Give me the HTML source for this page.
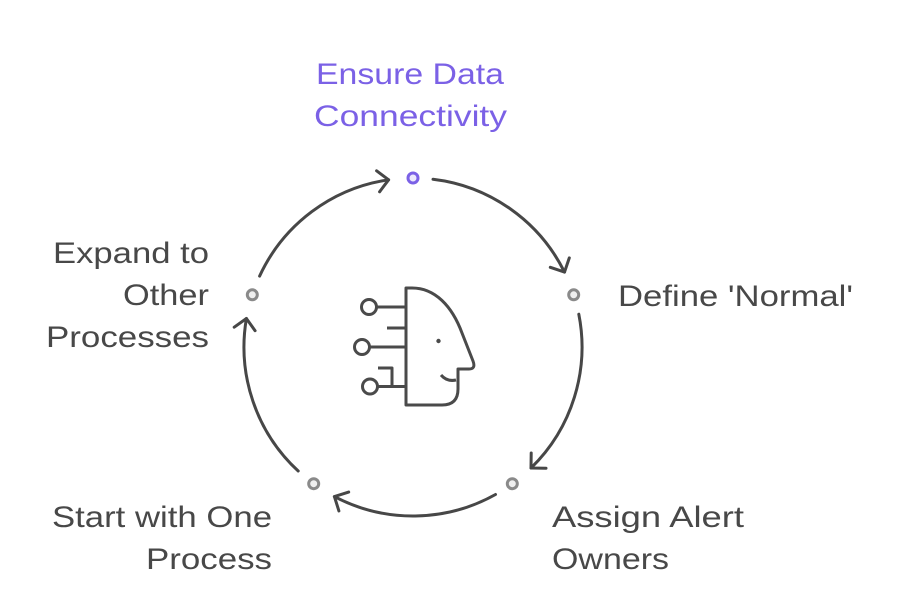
<!DOCTYPE html>
<html>
<head>
<meta charset="utf-8">
<style>
  html, body { margin: 0; padding: 0; background: #ffffff; }
  svg { display: block; }
  text { font-family: "Liberation Sans", Arial, sans-serif; font-size: 30px; fill: #484848; }
  .p { fill: #7b61e6; }
</style>
</head>
<body>
<svg width="900" height="600" viewBox="0 0 900 600" xmlns="http://www.w3.org/2000/svg">
  <rect width="900" height="600" fill="#ffffff"/>

  <!-- Arcs -->
  <g fill="none" stroke="#474747" stroke-width="3" stroke-linecap="round" stroke-linejoin="round">
    <path d="M433,179.2 A169,169 0 0 1 564.5,272.1"/>
    <path d="M569.3,257.9 L564.5,272.1 L550.3,267.3"/>

    <path d="M578.8,314.2 A169,169 0 0 1 531,468"/>
    <path d="M546,468.2 L531,468 L531.2,453"/>

    <path d="M495.5,494.5 A169,169 0 0 1 334.4,496.6"/>
    <path d="M338.9,510.9 L334.4,496.6 L348.7,492.1"/>

    <path d="M298.2,471 A169,169 0 0 1 246.4,318.5"/>
    <path d="M234.2,327.2 L246.4,318.5 L255.1,330.7"/>

    <path d="M259.6,276.1 A169,169 0 0 1 388.6,179.8"/>
    <path d="M376.6,170.8 L388.6,179.8 L379.6,191.8"/>
  </g>

  <!-- Nodes -->
  <circle cx="413" cy="178" r="5" fill="#ece8fd" stroke="#7b61e6" stroke-width="3"/>
  <circle cx="573.7" cy="294.8" r="5" fill="#efefef" stroke="#8a8a8a" stroke-width="3"/>
  <circle cx="512.3" cy="483.7" r="5" fill="#efefef" stroke="#8a8a8a" stroke-width="3"/>
  <circle cx="313.7" cy="483.7" r="5" fill="#efefef" stroke="#8a8a8a" stroke-width="3"/>
  <circle cx="252.3" cy="294.8" r="5" fill="#efefef" stroke="#8a8a8a" stroke-width="3"/>

  <!-- Center icon -->
  <g fill="none" stroke="#4a4a4a" stroke-width="3" stroke-linecap="butt" stroke-linejoin="round">
    <path d="M406,288 L412,288 C435,288 452,306 462,333 L473,361 Q476,369 469,369 L458,369 L458,389 Q458,405 442,405 L406,405 Z"/>
    <path d="M441,375 Q447,382 456,380"/>
    <circle cx="369" cy="307" r="7.5"/>
    <line x1="376.5" y1="307" x2="406" y2="307"/>
    <line x1="387" y1="328" x2="406" y2="328"/>
    <circle cx="362" cy="347" r="7.5"/>
    <line x1="369.5" y1="347" x2="406" y2="347"/>
    <circle cx="370" cy="386.5" r="7.5"/>
    <line x1="377.5" y1="386.5" x2="406" y2="386.5"/>
    <path d="M378,368 L392,368 L392,386.5"/>
  </g>
  <circle cx="438.5" cy="341" r="2.2" fill="#4a4a4a"/>

  <!-- Labels -->
  <text class="p" x="316" y="84" textLength="188" lengthAdjust="spacingAndGlyphs">Ensure Data</text>
  <text class="p" x="314" y="126" textLength="193" lengthAdjust="spacingAndGlyphs">Connectivity</text>

  <text x="53" y="263" textLength="156" lengthAdjust="spacingAndGlyphs">Expand to</text>
  <text x="123" y="305" textLength="86" lengthAdjust="spacingAndGlyphs">Other</text>
  <text x="46" y="347" textLength="163" lengthAdjust="spacingAndGlyphs">Processes</text>

  <text x="618" y="306" textLength="235" lengthAdjust="spacingAndGlyphs">Define 'Normal'</text>

  <text x="52" y="527" textLength="220" lengthAdjust="spacingAndGlyphs">Start with One</text>
  <text x="146" y="569" textLength="126" lengthAdjust="spacingAndGlyphs">Process</text>

  <text x="552" y="527" textLength="192" lengthAdjust="spacingAndGlyphs">Assign Alert</text>
  <text x="552" y="569" textLength="117" lengthAdjust="spacingAndGlyphs">Owners</text>
</svg>
</body>
</html>
